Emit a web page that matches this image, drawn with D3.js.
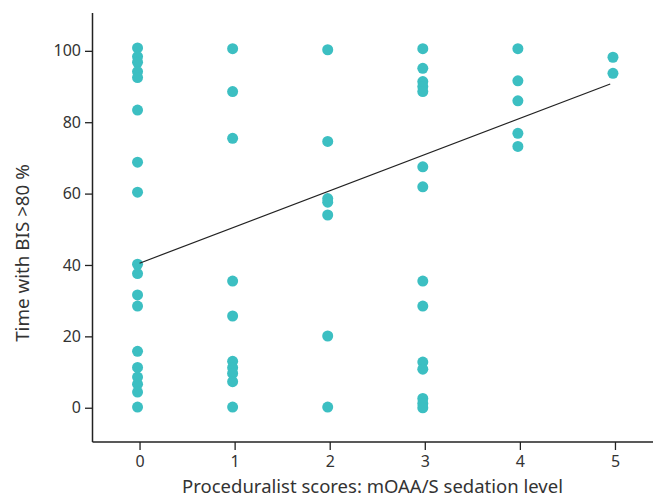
<!DOCTYPE html>
<html lang="en">
  <head>
    <meta charset="UTF-8" />
    <title>BIS vs sedation level</title>
    <script src="https://d3js.org/d3.v7.min.js"></script>
    <style>
      body {
        margin: 0;
        background: #fff;
      }
      .chart text {
        font-family: "Noto Sans", sans-serif;
        fill: #333;
      }
    </style>
  </head>
  <body>
    <div class="chart"></div>
  </body>

  <script>
    // sedation level (x) and % time with BIS > 80 (y), one entry per case
    var levels = [
      0, 0, 0, 0, 0, 0, 0, 0, 0, 0, 0, 0, 0, 0, 0, 0, 0, 0,
      1, 1, 1, 1, 1, 1, 1, 1, 1, 1,
      2, 2, 2, 2, 2, 2, 2,
      3, 3, 3, 3, 3, 3, 3, 3, 3, 3, 3, 3, 3, 3,
      4, 4, 4, 4, 4,
      5, 5
    ];
    var bisTime = [
      100.8, 98.4, 96.8, 94.2, 92.5, 83.4, 68.8, 60.4, 40.2, 37.6, 31.6, 28.5, 15.8, 11.3, 8.6, 6.6, 4.4, 0.2,
      100.6, 88.6, 75.5, 35.5, 25.7, 13.0, 11.2, 9.6, 7.3, 0.2,
      100.3, 74.6, 58.6, 57.6, 54.0, 20.1, 0.2,
      100.6, 95.1, 91.4, 90.0, 88.6, 67.5, 61.9, 35.5, 28.5, 12.8, 10.8, 2.6, 1.2, 0,
      100.6, 91.6, 86.0, 76.9, 73.2,
      98.2, 93.7
    ];
    // fitted line
    var fitX = [0, 4.95];
    var fitY = [40.5, 90.7];

    var xTicks = [0, 1, 2, 3, 4, 5];
    var yTicks = [0, 20, 40, 60, 80, 100];

    var W = 659, H = 500;
    var margin = { top: 13, right: 6, bottom: 58, left: 92 };
    var width = W - margin.left - margin.right;
    var height = H - margin.top - margin.bottom;

    var svg = d3
      .select(".chart")
      .append("svg")
      .attr("width", W)
      .attr("height", H);

    var g = svg
      .append("g")
      .attr("transform", "translate(" + margin.left + "," + margin.top + ")");

    var x = d3.scaleLinear().domain([-0.5, 5.4]).range([0, width]);
    var y = d3.scaleLinear().domain([-9.6, 110.6]).range([height, 0]);

    var xAxis = d3.axisBottom(x).tickValues(xTicks).tickFormat(d3.format("d")).tickSize(8).tickPadding(6);
    var yAxis = d3.axisLeft(y).tickValues(yTicks).tickFormat(d3.format("d")).tickSize(7).tickPadding(4);

    var gx = g.append("g").attr("transform", "translate(0," + height + ")").call(xAxis);
    var gy = g.append("g").call(yAxis);

    [gx, gy].forEach(function (a) {
      a.select(".domain").attr("stroke", "#222").attr("stroke-width", 1.5);
      a.selectAll(".tick line").attr("stroke", "#222").attr("stroke-width", 1.3);
      a.selectAll(".tick text").attr("font-size", 16).style("fill", "#333");
    });
    // plain axis lines without the end caps
    gx.select(".domain").attr("d", "M0.5,0H" + width);
    gy.select(".domain").attr("d", "M0.5," + height + "V0");

    var pts = levels.map(function (l, i) {
      return { x: l, y: bisTime[i] };
    });

    g.selectAll("circle")
      .data(pts)
      .enter()
      .append("circle")
      .attr("cx", function (d) { return x(d.x) - 2; })
      .attr("cy", function (d) { return y(d.y); })
      .attr("r", 5.5)
      .attr("fill", "#3cbfc2");

    var fit = fitX.map(function (v, i) { return [v, fitY[i]]; });
    g.append("path")
      .datum(fit)
      .attr("fill", "none")
      .attr("stroke", "#222")
      .attr("stroke-width", 1.2)
      .attr("d", d3.line()
        .x(function (d) { return x(d[0]); })
        .y(function (d) { return y(d[1]); }));

    svg.append("text")
      .attr("x", margin.left + width / 2)
      .attr("y", 493)
      .attr("text-anchor", "middle")
      .attr("font-size", 18.5)
      .text("Proceduralist scores: mOAA/S sedation level");

    svg.append("text")
      .attr("transform", "translate(29,253) rotate(-90)")
      .attr("text-anchor", "middle")
      .attr("font-size", 18.8)
      .text("Time with BIS >80 %");
  </script>
</html>
